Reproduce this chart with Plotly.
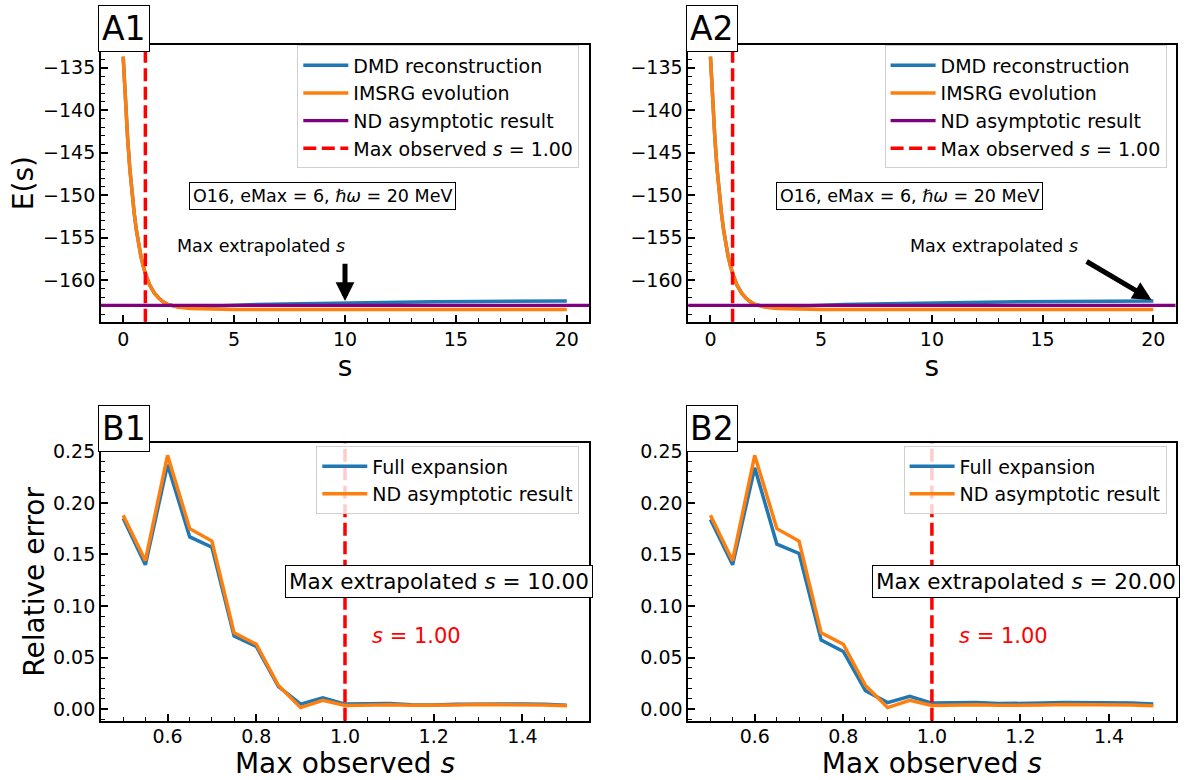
import plotly.graph_objects as go

# ---------------- data ----------------
s_vals = [0, 0.1, 0.2, 0.3, 0.4, 0.5, 0.6, 0.7, 0.8, 0.9, 1.0, 1.2, 1.4, 1.6, 1.8,
          2.0, 2.5, 3, 4, 5, 6, 8, 10, 12, 14, 16, 18, 20]
E_imsrg = [-133.7, -139.0, -143.3, -146.9, -149.8, -152.2, -154.2, -155.9, -157.2,
           -158.3, -159.2, -160.6, -161.5, -162.1, -162.55, -162.85, -163.2, -163.35,
           -163.42, -163.45, -163.45, -163.45, -163.45, -163.45, -163.45, -163.45,
           -163.45, -163.45]
E_dmd = [-133.7, -139.0, -143.3, -146.9, -149.8, -152.2, -154.2, -155.9, -157.2,
         -158.3, -159.2, -160.6, -161.5, -162.1, -162.55, -162.85, -163.15, -163.15,
         -163.05, -162.95, -162.88, -162.78, -162.68, -162.6, -162.55, -162.52,
         -162.48, -162.45]
E_nd_asymptotic = -162.97
s_max_observed = 1.0
s_max_extrapolated = [10.0, 20.0]

s_obs = [0.5, 0.55, 0.6, 0.65, 0.7, 0.75, 0.8, 0.85, 0.9, 0.95, 1.0, 1.05, 1.1,
         1.15, 1.2, 1.25, 1.3, 1.35, 1.4, 1.45, 1.5]
err_full_B1 = [0.185, 0.140, 0.237, 0.167, 0.157, 0.071, 0.061, 0.022, 0.005, 0.011,
               0.005, 0.005, 0.0055, 0.0045, 0.0042, 0.0048, 0.0052, 0.0052, 0.0052,
               0.0048, 0.004]
err_full_B2 = [0.184, 0.140, 0.234, 0.160, 0.151, 0.067, 0.056, 0.018, 0.0065, 0.0125,
               0.006, 0.006, 0.0065, 0.0055, 0.0055, 0.006, 0.0065, 0.0065, 0.0065,
               0.006, 0.005]
err_nd = [0.188, 0.144, 0.246, 0.175, 0.163, 0.074, 0.063, 0.023, 0.0016, 0.0087,
          0.0036, 0.0038, 0.0045, 0.0038, 0.0036, 0.0042, 0.0046, 0.0046, 0.0046,
          0.0042, 0.0034]

panel_labels = ["A1", "A2", "B1", "B2"]
xticks_A = [0, 5, 10, 15, 20]
yticks_A = [-135, -140, -145, -150, -155, -160]
xticks_B = [0.6, 0.8, 1.0, 1.2, 1.4]
yticks_B = [0.0, 0.05, 0.10, 0.15, 0.20, 0.25]

# ---------------- styling ----------------
BLUE, ORANGE, PURPLE, RED = "#1f77b4", "#ff7f0e", "#800080", "#ff0000"
FONT = "DejaVu Sans"
W, H = 1189, 780
cols = [(101.0, 589.0), (688.3, 1175.5)]
rows = [(41.7, 320.0), (441.7, 720.5)]
shift = cols[1][0] - cols[0][0]

fig = go.Figure()


def axis_common(domain, rng, tickvals, ticktext, minor_dtick, title, anchor):
    return dict(
        domain=domain, range=rng, anchor=anchor,
        showline=True, mirror=True, linecolor="black", linewidth=1.8,
        ticks="inside", ticklen=7, tickwidth=1.5, tickcolor="black",
        tickvals=tickvals, ticktext=ticktext,
        tickfont=dict(family=FONT, size=19, color="black"),
        showgrid=False, zeroline=False,
        minor=dict(ticks="inside", ticklen=4, tickwidth=1, tickcolor="black",
                   dtick=minor_dtick, showgrid=False),
        title=dict(text=title, font=dict(family=FONT, size=28, color="black")),
    )


layout_axes = {}
for i in range(4):
    r, c = divmod(i, 2)
    xd = [cols[c][0] / W, cols[c][1] / W]
    yd = [1 - rows[r][1] / H, 1 - rows[r][0] / H]
    n = "" if i == 0 else str(i + 1)
    if r == 0:
        xa = axis_common(xd, [-1, 21], xticks_A, [str(v) for v in xticks_A], 1, "s", "y" + n)
        ya = axis_common(yd, [-164.9, -132.27], yticks_A,
                         ["\u2212" + str(-v) for v in yticks_A], 1,
                         "E(s)" if c == 0 else "", "x" + n)
        xa["title"]["standoff"] = 5
        ya["title"]["standoff"] = 1
    else:
        xa = axis_common(xd, [0.45, 1.55], xticks_B, ["%.1f" % v for v in xticks_B],
                         0.05, "Max observed <i>s</i>", "y" + n)
        ya = axis_common(yd, [-0.0111, 0.258], yticks_B, ["%.2f" % v for v in yticks_B],
                         0.01, "Relative error" if c == 0 else "", "x" + n)
        xa["title"]["standoff"] = 11
        xa["ticklabelstandoff"] = -2
        ya["title"]["standoff"] = 0
    layout_axes["xaxis" + n] = xa
    layout_axes["yaxis" + n] = ya

shapes = []
annotations = []

for c in range(2):
    n = "" if c == 0 else str(c + 1)
    xr, yr = "x" + n, "y" + n
    leg = "legend" if c == 0 else "legend2"
    # --- top panels
    fig.add_trace(go.Scatter(x=s_vals, y=E_dmd, mode="lines", name="DMD reconstruction",
                             line=dict(color=BLUE, width=3.5), xaxis=xr, yaxis=yr,
                             legend=leg))
    fig.add_trace(go.Scatter(x=s_vals, y=E_imsrg, mode="lines", name="IMSRG evolution",
                             line=dict(color=ORANGE, width=3.5), xaxis=xr, yaxis=yr,
                             legend=leg))
    shapes.append(dict(type="line", xref=xr + " domain", yref=yr, x0=0, x1=1,
                       y0=E_nd_asymptotic, y1=E_nd_asymptotic, layer="above",
                       line=dict(color=PURPLE, width=3.2), showlegend=True,
                       name="ND asymptotic result", legend=leg))
    shapes.append(dict(type="line", xref=xr, yref=yr + " domain", x0=s_max_observed,
                       x1=s_max_observed, y0=0, y1=1, layer="above",
                       line=dict(color=RED, width=3.5, dash="13px,5.5px"),
                       showlegend=True, name="Max observed <i>s</i> = %.2f" % s_max_observed,
                       legend=leg))
    # info box
    annotations.append(dict(xref=xr + " domain", yref=yr + " domain", x=0.453, y=0.4528,
                            text="O16, eMax = 6, <i>\u210f\u03c9</i> = 20 MeV",
                            showarrow=False, font=dict(family=FONT, size=17.5, color="black"),
                            bordercolor="black", borderwidth=1, borderpad=3,
                            bgcolor="white", xanchor="center", yanchor="middle"))
    # max extrapolated arrow
    s_ext = s_max_extrapolated[c]
    E_ext = E_dmd[s_vals.index(s_ext)]
    if c == 0:
        txt_xy, tail = (6.22, -156.0), (s_ext, -157.9)
    else:
        txt_xy, tail = (12.81, -156.0), (16.92, -157.7)
    annotations.append(dict(xref=xr, yref=yr, x=txt_xy[0], y=txt_xy[1],
                            text="Max extrapolated <i>s</i>", showarrow=False,
                            font=dict(family=FONT, size=17.5, color="black"),
                            xanchor="center", yanchor="middle"))
    annotations.append(dict(xref=xr, yref=yr, x=s_ext, y=E_ext, ax=tail[0], ay=tail[1],
                            axref=xr, ayref=yr, text="", showarrow=True, arrowhead=2,
                            arrowwidth=5, arrowsize=0.75, arrowcolor="black",
                            standoff=2))

    # --- bottom panels
    n = str(c + 3)
    xr, yr = "x" + n, "y" + n
    leg = "legend3" if c == 0 else "legend4"
    err_full = err_full_B1 if c == 0 else err_full_B2
    fig.add_trace(go.Scatter(x=s_obs, y=err_full, mode="lines", name="Full expansion",
                             line=dict(color=BLUE, width=3.5), xaxis=xr, yaxis=yr,
                             legend=leg))
    fig.add_trace(go.Scatter(x=s_obs, y=err_nd, mode="lines", name="ND asymptotic result",
                             line=dict(color=ORANGE, width=3.5), xaxis=xr, yaxis=yr,
                             legend=leg))
    shapes.append(dict(type="line", xref=xr, yref=yr + " domain", x0=s_max_observed,
                       x1=s_max_observed, y0=0, y1=1, layer="above",
                       line=dict(color=RED, width=3.5, dash="13px,5.5px")))
    annotations.append(dict(xref=xr, yref=yr, x=1.2115, y=0.1236,
                            text="Max extrapolated <i>s</i> = %.2f" % s_ext,
                            showarrow=False, font=dict(family=FONT, size=21.5, color="black"),
                            bordercolor="black", borderwidth=1, borderpad=3,
                            bgcolor="white", xanchor="center", yanchor="middle"))
    annotations.append(dict(xref=xr, yref=yr, x=1.056, y=0.0714,
                            text="<i>s</i> = %.2f" % s_max_observed, showarrow=False,
                            font=dict(family=FONT, size=21, color=RED),
                            xanchor="left", yanchor="middle"))

# panel labels
for i, lab in enumerate(panel_labels):
    r, c = divmod(i, 2)
    cx = 124.2 + shift * c
    cy = 26.0 if r == 0 else 427.0
    annotations.append(dict(xref="paper", yref="paper", x=cx / W, y=1 - cy / H,
                            text=lab, showarrow=False,
                            font=dict(family=FONT, size=33, color="black"),
                            bordercolor="black", borderwidth=1, borderpad=3,
                            bgcolor="white", xanchor="center", yanchor="middle"))


def legend_at(right_px, top_px):
    return dict(x=right_px / W, y=1 - top_px / H, xanchor="right", yanchor="top",
                bgcolor="rgba(255,255,255,0.8)", bordercolor="#d0d0d0", borderwidth=1,
                font=dict(family=FONT, size=19, color="black"), itemwidth=45,
                tracegroupgap=0)


fig.update_layout(
    width=W, height=H, margin=dict(l=0, r=0, t=0, b=0),
    paper_bgcolor="white", plot_bgcolor="white",
    font=dict(family=FONT, color="black"),
    legend=legend_at(579.3, 42.5),
    legend2=legend_at(579.3 + shift, 42.5),
    legend3=legend_at(579.3, 445.0),
    legend4=legend_at(579.3 + shift, 445.0),
    shapes=shapes, annotations=annotations,
    **layout_axes,
)

fig.write_html("out.html")
